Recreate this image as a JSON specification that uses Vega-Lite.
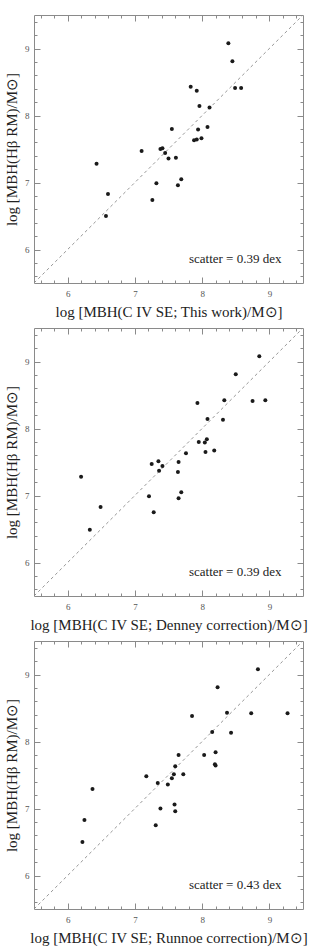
{
  "$schema": "https://vega.github.io/schema/vega-lite/v6.json",
  "padding": {"left": 4, "top": 14, "right": 5, "bottom": 5},
  "bounds": "flush",
  "spacing": 45,
  "config": {
    "view": {"stroke": "#8a8a8a", "strokeWidth": 1},
    "axis": {
      "grid": false,
      "domain": false,
      "tickColor": "#8a8a8a",
      "tickWidth": 1,
      "labelFont": "Liberation Serif",
      "labelFontSize": 9,
      "labelColor": "#555555",
      "titleFont": "Liberation Serif",
      "titleFontSize": 15,
      "titleFontWeight": "normal",
      "titleColor": "#222222",
      "labelFlush": false,
      "labelOverlap": false
    }
  },
  "datasets": {
    "diag": [{"x": 5.5, "y": 5.5, "x2": 9.5, "y2": 9.5}],
    "p1": [
      {"x": 8.39, "y": 9.08}, {"x": 8.45, "y": 8.81}, {"x": 8.49, "y": 8.41}, {"x": 8.58, "y": 8.41},
      {"x": 7.83, "y": 8.43}, {"x": 7.92, "y": 8.37}, {"x": 7.96, "y": 8.14}, {"x": 8.11, "y": 8.12},
      {"x": 7.55, "y": 7.80}, {"x": 7.94, "y": 7.79}, {"x": 8.08, "y": 7.83}, {"x": 7.99, "y": 7.66},
      {"x": 7.88, "y": 7.63}, {"x": 7.92, "y": 7.64}, {"x": 7.10, "y": 7.47}, {"x": 7.38, "y": 7.50},
      {"x": 7.41, "y": 7.51}, {"x": 7.45, "y": 7.44}, {"x": 7.50, "y": 7.36}, {"x": 7.61, "y": 7.37},
      {"x": 6.43, "y": 7.28}, {"x": 7.69, "y": 7.05}, {"x": 7.64, "y": 6.96}, {"x": 7.32, "y": 6.99},
      {"x": 7.26, "y": 6.74}, {"x": 6.60, "y": 6.83}, {"x": 6.57, "y": 6.50}
    ],
    "p2": [
      {"x": 8.85, "y": 9.08}, {"x": 8.50, "y": 8.81}, {"x": 7.93, "y": 8.38}, {"x": 8.33, "y": 8.42},
      {"x": 8.75, "y": 8.41}, {"x": 8.94, "y": 8.42}, {"x": 8.08, "y": 8.14}, {"x": 8.31, "y": 8.13},
      {"x": 7.76, "y": 7.63}, {"x": 7.95, "y": 7.80}, {"x": 8.04, "y": 7.79}, {"x": 8.07, "y": 7.84},
      {"x": 8.05, "y": 7.65}, {"x": 8.18, "y": 7.67}, {"x": 7.25, "y": 7.47}, {"x": 7.35, "y": 7.51},
      {"x": 7.41, "y": 7.44}, {"x": 7.36, "y": 7.37}, {"x": 7.65, "y": 7.50}, {"x": 7.64, "y": 7.35},
      {"x": 6.20, "y": 7.28}, {"x": 7.21, "y": 6.99}, {"x": 7.69, "y": 7.05}, {"x": 7.65, "y": 6.96},
      {"x": 7.28, "y": 6.75}, {"x": 6.49, "y": 6.83}, {"x": 6.33, "y": 6.49}
    ],
    "p3": [
      {"x": 8.83, "y": 9.08}, {"x": 8.23, "y": 8.81}, {"x": 7.85, "y": 8.38}, {"x": 8.37, "y": 8.43},
      {"x": 8.73, "y": 8.42}, {"x": 9.27, "y": 8.42}, {"x": 8.15, "y": 8.14}, {"x": 8.43, "y": 8.13},
      {"x": 8.03, "y": 7.80}, {"x": 8.20, "y": 7.84}, {"x": 8.19, "y": 7.66}, {"x": 8.20, "y": 7.64},
      {"x": 7.72, "y": 7.51}, {"x": 7.60, "y": 7.63}, {"x": 7.58, "y": 7.51}, {"x": 7.55, "y": 7.45},
      {"x": 7.34, "y": 7.38}, {"x": 7.49, "y": 7.36}, {"x": 7.17, "y": 7.48}, {"x": 6.37, "y": 7.29},
      {"x": 7.59, "y": 7.06}, {"x": 7.38, "y": 7.00}, {"x": 7.60, "y": 6.96}, {"x": 7.31, "y": 6.75},
      {"x": 6.25, "y": 6.83}, {"x": 6.22, "y": 6.50}, {"x": 7.65, "y": 7.80}
    ],
    "t1": [{"x": 9.18, "y": 5.8, "t": "scatter = 0.39 dex"}],
    "t2": [{"x": 9.18, "y": 5.8, "t": "scatter = 0.39 dex"}],
    "t3": [{"x": 9.18, "y": 5.8, "t": "scatter = 0.43 dex"}]
  },
  "vconcat": [
    {
      "width": 269, "height": 268,
      "resolve": {"axis": {"x": "independent", "y": "independent"}},
      "layer": [
        {
          "data": {"name": "diag"},
          "mark": {"type": "rule", "color": "#8a8a8a", "strokeDash": [3, 3], "strokeWidth": 0.9},
          "encoding": {
            "x": {"field": "x", "type": "quantitative", "scale": {"domain": [5.5, 9.5], "nice": false, "zero": false},
              "axis": {"orient": "top", "title": null, "labels": false, "values": [5.6,5.8,6,6.2,6.4,6.6,6.8,7,7.2,7.4,7.6,7.8,8,8.2,8.4,8.6,8.8,9,9.2,9.4],
                "tickSize": {"condition": {"test": "abs(datum.value - round(datum.value)) < 0.01", "value": -6}, "value": -3}}},
            "x2": {"field": "x2"},
            "y": {"field": "y", "type": "quantitative", "scale": {"domain": [5.5, 9.5], "nice": false, "zero": false},
              "axis": {"orient": "right", "title": null, "labels": false, "values": [5.6,5.8,6,6.2,6.4,6.6,6.8,7,7.2,7.4,7.6,7.8,8,8.2,8.4,8.6,8.8,9,9.2,9.4],
                "tickSize": {"condition": {"test": "abs(datum.value - round(datum.value)) < 0.01", "value": -6}, "value": -3}}},
            "y2": {"field": "y2"}
          }
        },
        {
          "data": {"name": "p1"},
          "mark": {"type": "circle", "size": 16, "color": "#1a1a1a", "opacity": 1},
          "encoding": {
            "x": {"field": "x", "type": "quantitative",
              "axis": {"orient": "bottom", "title": "log [MBH(C IV SE; This work)/M⊙]", "titlePadding": 3, "labelPadding": 12,
                "values": [5.6,5.8,6,6.2,6.4,6.6,6.8,7,7.2,7.4,7.6,7.8,8,8.2,8.4,8.6,8.8,9,9.2,9.4],
                "labelExpr": "abs(datum.value - round(datum.value)) < 0.01 ? '' + round(datum.value) : ''",
                "tickSize": {"condition": {"test": "abs(datum.value - round(datum.value)) < 0.01", "value": -6}, "value": -3}}},
            "y": {"field": "y", "type": "quantitative",
              "axis": {"orient": "left", "title": "log [MBH(Hβ RM)/M⊙]", "titlePadding": 5, "labelPadding": 11,
                "values": [5.6,5.8,6,6.2,6.4,6.6,6.8,7,7.2,7.4,7.6,7.8,8,8.2,8.4,8.6,8.8,9,9.2,9.4],
                "labelExpr": "abs(datum.value - round(datum.value)) < 0.01 ? '' + round(datum.value) : ''",
                "tickSize": {"condition": {"test": "abs(datum.value - round(datum.value)) < 0.01", "value": -6}, "value": -3}}}
          }
        },
        {
          "data": {"name": "t1"},
          "mark": {"type": "text", "align": "right", "baseline": "alphabetic", "font": "Liberation Serif", "fontSize": 13, "color": "#222222"},
          "encoding": {
            "x": {"field": "x", "type": "quantitative", "axis": null},
            "y": {"field": "y", "type": "quantitative", "axis": null},
            "text": {"field": "t"}
          }
        }
      ]
    },
    {
      "width": 269, "height": 268,
      "resolve": {"axis": {"x": "independent", "y": "independent"}},
      "layer": [
        {
          "data": {"name": "diag"},
          "mark": {"type": "rule", "color": "#8a8a8a", "strokeDash": [3, 3], "strokeWidth": 0.9},
          "encoding": {
            "x": {"field": "x", "type": "quantitative", "scale": {"domain": [5.5, 9.5], "nice": false, "zero": false},
              "axis": {"orient": "top", "title": null, "labels": false, "values": [5.6,5.8,6,6.2,6.4,6.6,6.8,7,7.2,7.4,7.6,7.8,8,8.2,8.4,8.6,8.8,9,9.2,9.4],
                "tickSize": {"condition": {"test": "abs(datum.value - round(datum.value)) < 0.01", "value": -6}, "value": -3}}},
            "x2": {"field": "x2"},
            "y": {"field": "y", "type": "quantitative", "scale": {"domain": [5.5, 9.5], "nice": false, "zero": false},
              "axis": {"orient": "right", "title": null, "labels": false, "values": [5.6,5.8,6,6.2,6.4,6.6,6.8,7,7.2,7.4,7.6,7.8,8,8.2,8.4,8.6,8.8,9,9.2,9.4],
                "tickSize": {"condition": {"test": "abs(datum.value - round(datum.value)) < 0.01", "value": -6}, "value": -3}}},
            "y2": {"field": "y2"}
          }
        },
        {
          "data": {"name": "p2"},
          "mark": {"type": "circle", "size": 16, "color": "#1a1a1a", "opacity": 1},
          "encoding": {
            "x": {"field": "x", "type": "quantitative",
              "axis": {"orient": "bottom", "title": "log [MBH(C IV SE; Denney correction)/M⊙]", "titlePadding": 3, "labelPadding": 12,
                "values": [5.6,5.8,6,6.2,6.4,6.6,6.8,7,7.2,7.4,7.6,7.8,8,8.2,8.4,8.6,8.8,9,9.2,9.4],
                "labelExpr": "abs(datum.value - round(datum.value)) < 0.01 ? '' + round(datum.value) : ''",
                "tickSize": {"condition": {"test": "abs(datum.value - round(datum.value)) < 0.01", "value": -6}, "value": -3}}},
            "y": {"field": "y", "type": "quantitative",
              "axis": {"orient": "left", "title": "log [MBH(Hβ RM)/M⊙]", "titlePadding": 5, "labelPadding": 11,
                "values": [5.6,5.8,6,6.2,6.4,6.6,6.8,7,7.2,7.4,7.6,7.8,8,8.2,8.4,8.6,8.8,9,9.2,9.4],
                "labelExpr": "abs(datum.value - round(datum.value)) < 0.01 ? '' + round(datum.value) : ''",
                "tickSize": {"condition": {"test": "abs(datum.value - round(datum.value)) < 0.01", "value": -6}, "value": -3}}}
          }
        },
        {
          "data": {"name": "t2"},
          "mark": {"type": "text", "align": "right", "baseline": "alphabetic", "font": "Liberation Serif", "fontSize": 13, "color": "#222222"},
          "encoding": {
            "x": {"field": "x", "type": "quantitative", "axis": null},
            "y": {"field": "y", "type": "quantitative", "axis": null},
            "text": {"field": "t"}
          }
        }
      ]
    },
    {
      "width": 269, "height": 268,
      "resolve": {"axis": {"x": "independent", "y": "independent"}},
      "layer": [
        {
          "data": {"name": "diag"},
          "mark": {"type": "rule", "color": "#8a8a8a", "strokeDash": [3, 3], "strokeWidth": 0.9},
          "encoding": {
            "x": {"field": "x", "type": "quantitative", "scale": {"domain": [5.5, 9.5], "nice": false, "zero": false},
              "axis": {"orient": "top", "title": null, "labels": false, "values": [5.6,5.8,6,6.2,6.4,6.6,6.8,7,7.2,7.4,7.6,7.8,8,8.2,8.4,8.6,8.8,9,9.2,9.4],
                "tickSize": {"condition": {"test": "abs(datum.value - round(datum.value)) < 0.01", "value": -6}, "value": -3}}},
            "x2": {"field": "x2"},
            "y": {"field": "y", "type": "quantitative", "scale": {"domain": [5.5, 9.5], "nice": false, "zero": false},
              "axis": {"orient": "right", "title": null, "labels": false, "values": [5.6,5.8,6,6.2,6.4,6.6,6.8,7,7.2,7.4,7.6,7.8,8,8.2,8.4,8.6,8.8,9,9.2,9.4],
                "tickSize": {"condition": {"test": "abs(datum.value - round(datum.value)) < 0.01", "value": -6}, "value": -3}}},
            "y2": {"field": "y2"}
          }
        },
        {
          "data": {"name": "p3"},
          "mark": {"type": "circle", "size": 16, "color": "#1a1a1a", "opacity": 1},
          "encoding": {
            "x": {"field": "x", "type": "quantitative",
              "axis": {"orient": "bottom", "title": "log [MBH(C IV SE; Runnoe correction)/M⊙]", "titlePadding": 3, "labelPadding": 12,
                "values": [5.6,5.8,6,6.2,6.4,6.6,6.8,7,7.2,7.4,7.6,7.8,8,8.2,8.4,8.6,8.8,9,9.2,9.4],
                "labelExpr": "abs(datum.value - round(datum.value)) < 0.01 ? '' + round(datum.value) : ''",
                "tickSize": {"condition": {"test": "abs(datum.value - round(datum.value)) < 0.01", "value": -6}, "value": -3}}},
            "y": {"field": "y", "type": "quantitative",
              "axis": {"orient": "left", "title": "log [MBH(Hβ RM)/M⊙]", "titlePadding": 5, "labelPadding": 11,
                "values": [5.6,5.8,6,6.2,6.4,6.6,6.8,7,7.2,7.4,7.6,7.8,8,8.2,8.4,8.6,8.8,9,9.2,9.4],
                "labelExpr": "abs(datum.value - round(datum.value)) < 0.01 ? '' + round(datum.value) : ''",
                "tickSize": {"condition": {"test": "abs(datum.value - round(datum.value)) < 0.01", "value": -6}, "value": -3}}}
          }
        },
        {
          "data": {"name": "t3"},
          "mark": {"type": "text", "align": "right", "baseline": "alphabetic", "font": "Liberation Serif", "fontSize": 13, "color": "#222222"},
          "encoding": {
            "x": {"field": "x", "type": "quantitative", "axis": null},
            "y": {"field": "y", "type": "quantitative", "axis": null},
            "text": {"field": "t"}
          }
        }
      ]
    }
  ]
}
